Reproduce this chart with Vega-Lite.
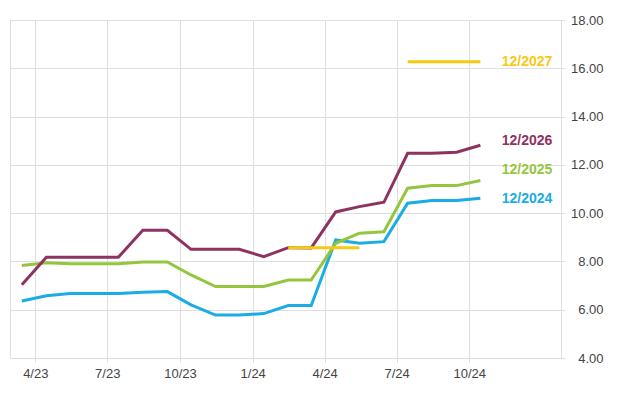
{
  "$schema": "https://vega.github.io/schema/vega-lite/v6.json",
  "width": 551,
  "height": 338,
  "autosize": {"type": "none"},
  "padding": {"left": 10, "top": 20, "right": 67, "bottom": 36},
  "background": "#ffffff",
  "config": {
    "view": {"stroke": "#dedede", "strokeWidth": 1},
    "font": "Liberation Sans"
  },
  "datasets": {
    "series": [
      {"date": "2023-03-15", "series": "12/2024", "value": 6.36},
      {"date": "2023-04-15", "series": "12/2024", "value": 6.58},
      {"date": "2023-05-15", "series": "12/2024", "value": 6.67},
      {"date": "2023-06-15", "series": "12/2024", "value": 6.67},
      {"date": "2023-07-15", "series": "12/2024", "value": 6.67},
      {"date": "2023-08-15", "series": "12/2024", "value": 6.72},
      {"date": "2023-09-15", "series": "12/2024", "value": 6.75},
      {"date": "2023-10-15", "series": "12/2024", "value": 6.20},
      {"date": "2023-11-15", "series": "12/2024", "value": 5.78},
      {"date": "2023-12-15", "series": "12/2024", "value": 5.78},
      {"date": "2024-01-15", "series": "12/2024", "value": 5.84},
      {"date": "2024-02-15", "series": "12/2024", "value": 6.17},
      {"date": "2024-03-15", "series": "12/2024", "value": 6.17},
      {"date": "2024-04-15", "series": "12/2024", "value": 8.89},
      {"date": "2024-05-15", "series": "12/2024", "value": 8.75},
      {"date": "2024-06-15", "series": "12/2024", "value": 8.82},
      {"date": "2024-07-15", "series": "12/2024", "value": 10.41},
      {"date": "2024-08-15", "series": "12/2024", "value": 10.52},
      {"date": "2024-09-15", "series": "12/2024", "value": 10.52},
      {"date": "2024-10-15", "series": "12/2024", "value": 10.62},
      {"date": "2023-03-15", "series": "12/2025", "value": 7.83},
      {"date": "2023-04-15", "series": "12/2025", "value": 7.95},
      {"date": "2023-05-15", "series": "12/2025", "value": 7.90},
      {"date": "2023-06-15", "series": "12/2025", "value": 7.90},
      {"date": "2023-07-15", "series": "12/2025", "value": 7.90},
      {"date": "2023-08-15", "series": "12/2025", "value": 7.98},
      {"date": "2023-09-15", "series": "12/2025", "value": 7.98},
      {"date": "2023-10-15", "series": "12/2025", "value": 7.44},
      {"date": "2023-11-15", "series": "12/2025", "value": 6.96},
      {"date": "2023-12-15", "series": "12/2025", "value": 6.96},
      {"date": "2024-01-15", "series": "12/2025", "value": 6.96},
      {"date": "2024-02-15", "series": "12/2025", "value": 7.23},
      {"date": "2024-03-15", "series": "12/2025", "value": 7.23},
      {"date": "2024-04-15", "series": "12/2025", "value": 8.75},
      {"date": "2024-05-15", "series": "12/2025", "value": 9.17},
      {"date": "2024-06-15", "series": "12/2025", "value": 9.23},
      {"date": "2024-07-15", "series": "12/2025", "value": 11.03},
      {"date": "2024-08-15", "series": "12/2025", "value": 11.14},
      {"date": "2024-09-15", "series": "12/2025", "value": 11.14},
      {"date": "2024-10-15", "series": "12/2025", "value": 11.35},
      {"date": "2023-03-15", "series": "12/2026", "value": 7.03},
      {"date": "2023-04-15", "series": "12/2026", "value": 8.17},
      {"date": "2023-05-15", "series": "12/2026", "value": 8.17},
      {"date": "2023-06-15", "series": "12/2026", "value": 8.17},
      {"date": "2023-07-15", "series": "12/2026", "value": 8.17},
      {"date": "2023-08-15", "series": "12/2026", "value": 9.29},
      {"date": "2023-09-15", "series": "12/2026", "value": 9.29},
      {"date": "2023-10-15", "series": "12/2026", "value": 8.50},
      {"date": "2023-11-15", "series": "12/2026", "value": 8.50},
      {"date": "2023-12-15", "series": "12/2026", "value": 8.50},
      {"date": "2024-01-15", "series": "12/2026", "value": 8.20},
      {"date": "2024-02-15", "series": "12/2026", "value": 8.57},
      {"date": "2024-03-15", "series": "12/2026", "value": 8.56},
      {"date": "2024-04-15", "series": "12/2026", "value": 10.05},
      {"date": "2024-05-15", "series": "12/2026", "value": 10.27},
      {"date": "2024-06-15", "series": "12/2026", "value": 10.45},
      {"date": "2024-07-15", "series": "12/2026", "value": 12.48},
      {"date": "2024-08-15", "series": "12/2026", "value": 12.48},
      {"date": "2024-09-15", "series": "12/2026", "value": 12.52},
      {"date": "2024-10-15", "series": "12/2026", "value": 12.81},
      {"date": "2024-02-15", "series": "12/2027", "value": 8.57},
      {"date": "2024-03-15", "series": "12/2027", "value": 8.57},
      {"date": "2024-04-15", "series": "12/2027", "value": 8.57},
      {"date": "2024-05-15", "series": "12/2027", "value": 8.57},
      {"date": "2024-06-15", "series": "12/2027", "value": null},
      {"date": "2024-07-15", "series": "12/2027", "value": 16.27},
      {"date": "2024-08-15", "series": "12/2027", "value": 16.27},
      {"date": "2024-09-15", "series": "12/2027", "value": 16.27},
      {"date": "2024-10-15", "series": "12/2027", "value": 16.27}
    ],
    "labels": [
      {"date": "2024-11-11", "series": "12/2027", "value": 16.26},
      {"date": "2024-11-11", "series": "12/2026", "value": 12.99},
      {"date": "2024-11-11", "series": "12/2025", "value": 11.79},
      {"date": "2024-11-11", "series": "12/2024", "value": 10.59}
    ]
  },
  "encoding": {
    "x": {
      "field": "date",
      "type": "temporal",
      "scale": {"type": "utc", "domain": ["2023-02-28", "2025-01-25"]},
      "axis": {
        "title": null,
        "values": ["2023-04-01", "2023-07-01", "2023-10-01", "2024-01-01", "2024-04-01", "2024-07-01", "2024-10-01"],
        "labelExpr": "utcFormat(datum.value, '%-m/%y')",
        "grid": true,
        "gridColor": "#dedede",
        "domain": false,
        "tickColor": "#dedede",
        "tickSize": 4,
        "labelPadding": 5,
        "labelFont": "Liberation Sans",
        "labelFontSize": 13,
        "labelColor": "#444444",
        "labelFlush": false
      }
    },
    "y": {
      "field": "value",
      "type": "quantitative",
      "scale": {"domain": [4, 18], "nice": false, "zero": false},
      "axis": {
        "title": null,
        "orient": "right",
        "values": [4, 6, 8, 10, 12, 14, 16, 18],
        "format": ".2f",
        "grid": true,
        "gridColor": "#dedede",
        "domain": false,
        "tickColor": "#dedede",
        "tickSize": 4,
        "labelPadding": 38,
        "labelAlign": "right",
        "labelFont": "Liberation Sans",
        "labelFontSize": 13,
        "labelColor": "#444444",
        "labelFlush": false
      }
    },
    "color": {
      "field": "series",
      "type": "nominal",
      "legend": null,
      "scale": {
        "domain": ["12/2024", "12/2025", "12/2026", "12/2027"],
        "range": ["#1aace2", "#93c63e", "#8e3262", "#f7c911"]
      }
    }
  },
  "layer": [
    {
      "data": {"name": "series"},
      "mark": {"type": "line", "strokeWidth": 3, "invalid": "break-paths-show-domains"}
    },
    {
      "data": {"name": "labels"},
      "mark": {"type": "text", "align": "left", "baseline": "middle", "font": "Liberation Sans", "fontWeight": "bold", "fontSize": 14},
      "encoding": {"text": {"field": "series"}}
    }
  ]
}
